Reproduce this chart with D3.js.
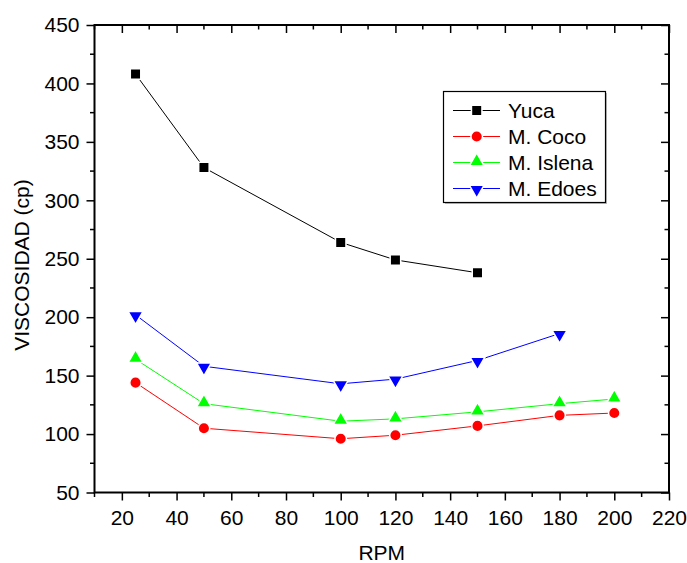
<!DOCTYPE html>
<html>
<head>
<meta charset="utf-8">
<script src="https://cdn.jsdelivr.net/npm/d3@7"></script>
<style>
  body { margin: 0; background: #fff; }
  text { font-family: "Liberation Sans", Arial, sans-serif; fill: #000; }
</style>
</head>
<body>
<svg id="chart" width="687" height="563"></svg>
<script>
// data
var rpm = [25, 50, 100, 120, 150, 180, 200];
var yuca    = [408, 328, 264, 249, 238];
var coco    = [144, 105, 96, 99, 107, 116, 118];
var islena  = [164, 126, 111, 113, 119, 126, 130];
var edoes   = [202, 158, 143, 147, 163, 186];
var xTicks = [20, 40, 60, 80, 100, 120, 140, 160, 180, 200, 220];
var yTicks = [50, 100, 150, 200, 250, 300, 350, 400, 450];

var series = [
  {name: "Yuca",     vals: yuca,   color: "#000000", shape: "square"},
  {name: "M. Coco",  vals: coco,   color: "#ff0000", shape: "circle"},
  {name: "M. Islena",vals: islena, color: "#00ff00", shape: "up"},
  {name: "M. Edoes", vals: edoes,  color: "#0000ff", shape: "down"}
];

var svg = d3.select("#chart");
var pLeft = 94.5, pRight = 669, pTop = 25, pBottom = 492.5;

var x = d3.scaleLinear().domain([10, 220]).range([pLeft, pRight]);
var y = d3.scaleLinear().domain([50, 450]).range([pBottom, pTop]);

// minor ticks
var xMinor = d3.range(10, 221, 10).filter(function(v){ return v % 20 != 0; });
var yMinor = d3.range(75, 450, 50);

function drawAxis(axis, tr) {
  var g = svg.append("g").attr("transform", tr).call(axis);
  g.select(".domain").remove();
  g.selectAll(".tick line").attr("stroke", "#000").attr("stroke-width", 1.5);
  return g;
}

// bottom axis (outward)
var gb = drawAxis(d3.axisBottom(x).tickValues(xTicks).tickSize(8).tickPadding(9.5), "translate(0," + pBottom + ")");
gb.selectAll("text").attr("font-size", 21);
svg.append("g").selectAll("line").data(xMinor).enter().append("line")
  .attr("x1", function(d){ return x(d); }).attr("x2", function(d){ return x(d); })
  .attr("y1", pBottom).attr("y2", pBottom + 4.5).attr("stroke", "#000").attr("stroke-width", 1.5);

// top axis (inward)
drawAxis(d3.axisBottom(x).tickValues(xTicks).tickSize(8).tickFormat(""), "translate(0," + pTop + ")");
svg.append("g").selectAll("line").data(xMinor).enter().append("line")
  .attr("x1", function(d){ return x(d); }).attr("x2", function(d){ return x(d); })
  .attr("y1", pTop).attr("y2", pTop + 4.5).attr("stroke", "#000").attr("stroke-width", 1.5);

// left axis (outward)
var gl = drawAxis(d3.axisLeft(y).tickValues(yTicks).tickSize(8).tickPadding(7), "translate(" + pLeft + ",0)");
gl.selectAll("text").attr("font-size", 21);
svg.append("g").selectAll("line").data(yMinor).enter().append("line")
  .attr("y1", function(d){ return y(d); }).attr("y2", function(d){ return y(d); })
  .attr("x1", pLeft).attr("x2", pLeft - 4.5).attr("stroke", "#000").attr("stroke-width", 1.5);

// right axis (inward)
drawAxis(d3.axisLeft(y).tickValues(yTicks).tickSize(8).tickFormat(""), "translate(" + pRight + ",0)");
svg.append("g").selectAll("line").data(yMinor).enter().append("line")
  .attr("y1", function(d){ return y(d); }).attr("y2", function(d){ return y(d); })
  .attr("x1", pRight).attr("x2", pRight - 4.5).attr("stroke", "#000").attr("stroke-width", 1.5);

// frame
svg.append("rect").attr("x", pLeft).attr("y", pTop)
  .attr("width", pRight - pLeft).attr("height", pBottom - pTop)
  .attr("fill", "none").attr("stroke", "#000").attr("stroke-width", 2);

// axis titles
svg.append("text").attr("x", (pLeft + pRight) / 2).attr("y", 560)
  .attr("text-anchor", "middle").attr("font-size", 21).text("RPM");
svg.append("text").attr("transform", "translate(29,265) rotate(-90)")
  .attr("text-anchor", "middle").attr("font-size", 21).text("VISCOSIDAD (cp)");

function marker(sel, shape, color) {
  var sym;
  if (shape == "square") sym = d3.symbol().type(d3.symbolSquare).size(110);
  else if (shape == "circle") sym = d3.symbol().type(d3.symbolCircle).size(105);
  else sym = d3.symbol().type(d3.symbolTriangle).size(95);
  sel.append("path").attr("d", sym)
    .attr("transform", function(d){
      var t = "translate(" + d[0] + "," + d[1] + ")";
      if (shape == "up") t += " translate(0,-1)";
      if (shape == "down") t += " rotate(180) translate(0,-1)";
      return t;
    })
    .attr("fill", color).attr("stroke", "#fff").attr("stroke-width", 1.5);
}

var line = d3.line();
series.forEach(function(s) {
  var pts = s.vals.map(function(v, i){ return [x(rpm[i]), y(v)]; });
  svg.append("path").attr("d", line(pts)).attr("fill", "none")
    .attr("stroke", s.color).attr("stroke-width", 1);
  var g = svg.append("g").selectAll("g").data(pts).enter().append("g");
  marker(g, s.shape, s.color);
});

// legend
var lg = svg.append("g");
lg.append("rect").attr("x", 445).attr("y", 93).attr("width", 162).attr("height", 111)
  .attr("fill", "#bbb");
lg.append("rect").attr("x", 443.5).attr("y", 91.5).attr("width", 162).attr("height", 111)
  .attr("fill", "#fff").attr("stroke", "#000").attr("stroke-width", 1.2);
series.forEach(function(s, i) {
  var yy = 110.5 + i * 26;
  lg.append("line").attr("x1", 453).attr("x2", 500).attr("y1", yy).attr("y2", yy)
    .attr("stroke", s.color).attr("stroke-width", 1);
  var g = lg.append("g").selectAll("g").data([[476.7, yy]]).enter().append("g");
  marker(g, s.shape, s.color);
  lg.append("text").attr("x", 508).attr("y", yy).attr("dy", "0.35em")
    .attr("font-size", 21).text(s.name);
});
</script>
</body>
</html>
